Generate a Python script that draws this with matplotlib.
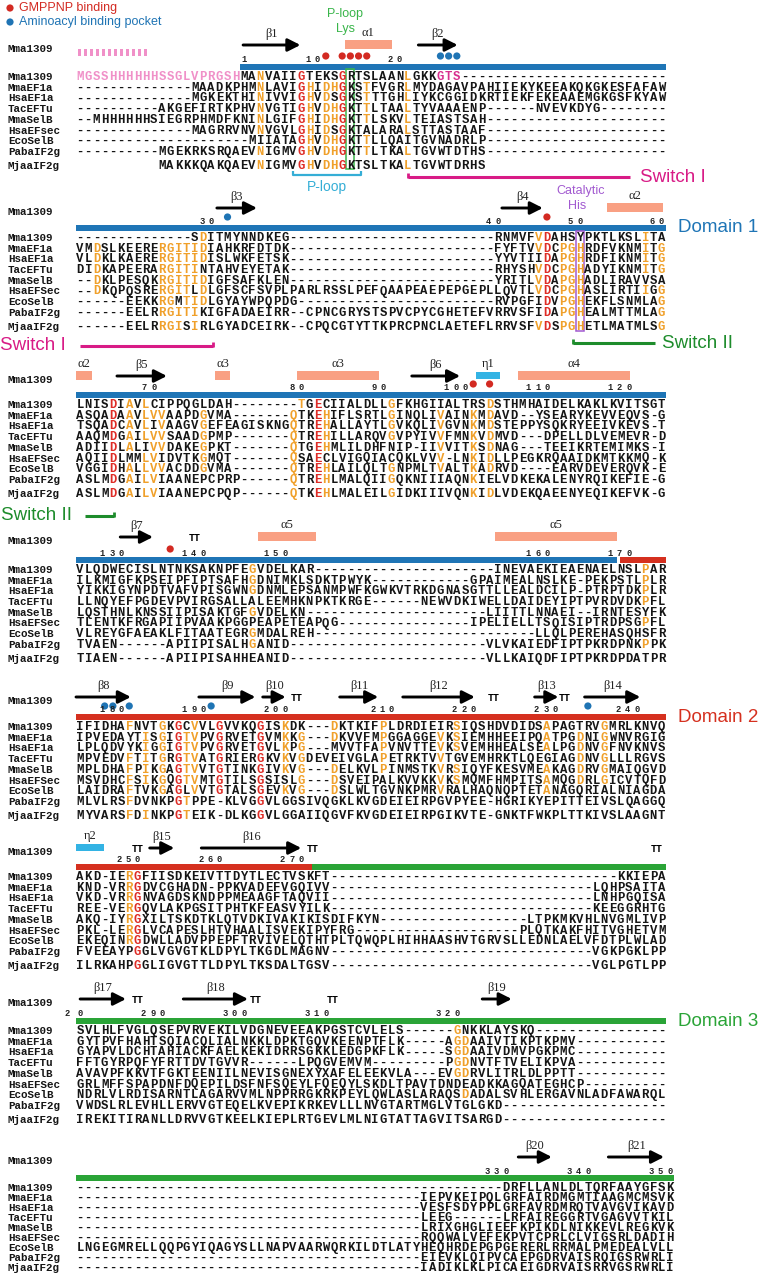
import matplotlib
matplotlib.use("Agg")
import matplotlib.pyplot as plt
from matplotlib.patches import Rectangle, Circle
from matplotlib.font_manager import FontProperties
from collections import Counter

W, H = 760, 1276
X0, CW = 76.0, 8.19     # left edge of residue column 1, column width (px)
NAME_X = 8

NAMES = ["Mma1309", "MmaEF1a", "HsaEF1a", "TacEFTu", "MmaSelB",
         "HsaEFSec", "EcoSelB", "PabaIF2g", "MjaaIF2g"]
NAMES_FIRST = NAMES[:5] + ["HsaEFsec"] + NAMES[6:]

# ---- alignment blocks (9 sequences each) ----
B1 = [
    "MGSSHHHHHHSSGLVPRGSHMANVAIIGTEKSGRTSLAANLGKKGTS" + "-" * 25,
    "-" * 14 + "MAADKPHMNLAVIGHIDHGKSTFVGRLMYDAGAVPAHIIEKYKEEAKQKGKESFAFAW",
    "-" * 14 + "MGKEKTHINIVVIGHVDSGKSTTTGHLIYKCGGIDKRTIEKFEKEAAEMGKGSFKYAW",
    "-" * 10 + "AKGEFIRTKPHVNVGTIGHVDHGKTTLTAALTYVAAAENP" + "-" * 6 + "NVEVKDYG" + "-" * 8,
    "--MHHHHHHSIEGRPHMDFKNINLGIFGHIDHGKTTLSKVLTEIASTSAH" + "-" * 22,
    "-" * 14 + "MAGRRVNVNVGVLGHIDSGKTALARALSTTASTAAF" + "-" * 22,
    "-" * 21 + "MIIATAGHVDHGKTTLLQAITGVNADRLP" + "-" * 22,
    "-" * 10 + "MGEKRKSRQAEVNIGMVGHVDHGKTTLTKALTGVWTDTHS" + "-" * 22,
    " " * 10 + "MAKKKQAKQAEVNIGMVGHVDHGKTSLTKALTGVWTDRHS",
]
B2 = [
    "-" * 14 + "SDITMYNNDKEG" + "-" * 25 + "RNMVFVDAHSYPKTLKSLITA",
    "VMDSLKEERERGITIDIAHKRFDTDK" + "-" * 25 + "FYFTVVDCPGHRDFVKNMITG",
    "VLDKLKAERERGITIDISLWKFETSK" + "-" * 25 + "YYVTIIDAPGHRDFIKNMITG",
    "DIDKAPEERARGITINTAHVEYETAK" + "-" * 25 + "RHYSHVDCPGHADYIKNMITG",
    "--DKLPESQKRGITIDIGFSAFKLEN" + "-" * 25 + "YRITLVDAPGHADLIRAVVSA",
    "--DKQPQSRERGITLDLGFSCFSVPLPARLRSSLPEFQAAPEAEPEPGEPLLQVTLVDCPGHASLIRTIIGG",
    "------EEKKRGMTIDLGYAYWPQPDG" + "-" * 24 + "RVPGFIDVPGHEKFLSNMLAG",
    "------EELRRGITIKIGFADAEIRR--CPNCGRYSTSPVCPYCGHETEFVRRVSFIDAPGHEALMTTMLAG",
    "------EELRRGISIRLGYADCEIRK--CPQCGTYTTKPRCPNCLAETEFLRRVSFVDSPGHETLMATMLSG",
]
B3 = [
    "LNISDIAVLCIPPQGLDAH" + "-" * 8 + "TGECIIALDLLGFKHGIIALTRSDSTHMHAIDELKAKLKVITSGT",
    "ASQADAAVLVVAAPDGVMA" + "-" * 7 + "QTKEHIFLSRTLGINQLIVAINKMDAVD--YSEARYKEVVEQVS-G",
    "TSQADCAVLIVAAGVGEFEAGISKNGQTREHALLAYTLGVKQLIVGVNKMDSTEPPYSQKRYEEIVKEVS-T",
    "AAQMDGAILVVSAADGPMP" + "-" * 7 + "QTREHILLARQVGVPYIVVFMNKVDMVD---DPELLDLVEMEVR-D",
    "ADIIDLALIVVDAKEGPKT" + "-" * 7 + "QTGEHMLILDHFNIP-IIVVITKSDNAG---TEEIKRTEMIMKS-I",
    "AQIIDLMMLVIDVTKGMQT" + "-" * 7 + "QSAECLVIGQIACQKLVVV-LNKIDLLPEGKRQAAIDKMTKKMQ-K",
    "VGGIDHALLVVACDDGVMA" + "-" * 7 + "QTREHLAILQLTGNPMLTVALTKADRVD----EARVDEVERQVK-E",
    "ASLMDGAILVIAANEPCPRP" + "-" * 6 + "QTREHLMALQIIGQKNIIIAQNKIELVDKEKALENYRQIKEFIE-G",
    "ASLMDGAILVIAANEPCPQP" + "-" * 6 + "QTKEHLMALEILGIDKIIIVQNKIDLVDEKQAEENYEQIKEFVK-G",
]
B4 = [
    "VLQDWECISLNTNKSAKNPFEGVDELKAR" + "-" * 22 + "INEVAEKIEAENAELNSLPAR",
    "ILKMIGFKPSEIPFIPTSAFHGDNIMKLSDKTPWYK" + "-" * 12 + "GPAIMEALNSLKE-PEKPSTLPLR",
    "YIKKIGYNPDTVAFVPISGWNGDNMLEPSANMPWFKGWKVTRKDGNASGTTLLEALDCILP-PTRPTDKPLR",
    "LLNQYEFPGDEVPVIRGSALLALEEMHKNPKTKRGE" + "-" * 6 + "NEWVDKIWELLDAIDEYIPTPVRDVDKPFL",
    "LQSTHNLKNSSIIPISAKTGFGVDELKN" + "-" * 22 + "LIITTLNNAEI--IRNTESYFK",
    "TLENTKFRGAPIIPVAAKPGGPEAPETEAPQG" + "-" * 16 + "IPELIELLTSQISIPTRDPSGPFL",
    "VLREYGFAEAKLFITAATEGRGMDALREH" + "-" * 27 + "LLQLPEREHASQHSFR",
    "TVAEN------APIIPISALHGANID" + "-" * 24 + "VLVKAIEDFIPTPKRDPNKPPK",
    "TIAEN------APIIPISAHHEANID" + "-" * 24 + "VLLKAIQDFIPTPKRDPDATPR",
]
B5 = [
    "IFIDHAFNVTGKGCVVLGVVKQGISKDK---DKTKIFPLDRDIEIRSIQSHDVDIDSAPAGTRVGMRLKNVQ",
    "IPVEDAYTISGIGTVPVGRVETGVMKKG---DKVVFMPGGAGGEVKSIEMHHEEIPQATPGDNIGWNVRGIG",
    "LPLQDVYKIGGIGTVPVGRVETGVLKPG---MVVTFAPVNVTTEVKSVEMHHEALSEALPGDNVGFNVKNVS",
    "MPVEDVFTITGRGTVATGRIERGKVKVGDEVEIVGLAPETRKTVVTGVEMHRKTLQEGIAGDNVGLLLRGVS",
    "MPLDHAFPIKGAGTVVTGTINKGIVKVG---DELKVLPINMSTKVRSIQYFKESVMEAKAGDRVGMAIQGVD",
    "MSVDHCFSIKGQGTVMTGTILSGSISLG---DSVEIPALKVVKKVKSMQMFHMPITSAMQGDRLGICVTQFD",
    "LAIDRAFTVKGAGLVVTGTALSGEVKVG---DSLWLTGVNKPMRVRALHAQNQPTETANAGQRIALNIAGDA",
    "MLVLRSFDVNKPGTPPE-KLVGGVLGGSIVQGKLKVGDEIEIRPGVPYEE-HGRIKYEPITTEIVSLQAGGQ",
    "MYVARSFDINKPGTEIK-DLKGGVLGGAIIQGVFKVGDEIEIRPGIKVTE-GNKTFWKPLTTKIVSLAAGNT",
]
B6 = [
    "AKD-IERGFIISDKEIVTTDYTLECTVSKFT" + "-" * 35 + "KKIEPA",
    "KND-VRRGDVCGHADN-PPKVADEFVGQIVV" + "-" * 32 + "LQHPSAITA",
    "VKD-VRRGNVAGDSKNDPPMEAAGFTAQVII" + "-" * 32 + "LNHPGQISA",
    "REE-VERGQVLAKPGSITPHTKFEASVYILK" + "-" * 32 + "KEEGGRHTG",
    "AKQ-IYRGXILTSKDTKLQTVDKIVAKIKISDIFKYN" + "-" * 18 + "LTPKMKVHLNVGMLIVP",
    "PKL-LERGLVCAPESLHTVHAALISVEKIPYFRG" + "-" * 20 + "PLQTKAKFHITVGHETVM",
    "EKEQINRGDWLLADVPPEPFTRVIVELQTHTPLTQWQPLHIHHAASHVTGRVSLLEDNLAELVFDTPLWLAD",
    "FVEEAYPGGLVGVGTKLDPYLTKGDLMAGNV" + "-" * 32 + "VGKPGKLPP",
    "ILRKAHPGGLIGVGTTLDPYLTKSDALTGSV" + "-" * 32 + "VGLPGTLPP",
]
B7 = [
    "SVLHLFVGLQSEPVRVEKILVDGNEVEEAKPGSTCVLELS" + "-" * 6 + "GNKKLAYSKQ" + "-" * 16,
    "GYTPVFHAHTSQIACQLIALNKKLDPKTGQVKEENPTFLK" + "-" * 5 + "AGDAAIVTIKPTKPMV" + "-" * 11,
    "GYAPVLDCHTAHIACKFAELKEKIDRRSGKKLEDGPKFLK" + "-" * 5 + "SGDAAIVDMVPGKPMC" + "-" * 11,
    "FFTGYRPQFYFRTTDVTGVVR" + "-" * 6 + "LPQGVEMVM" + "-" * 9 + "PGDNVTFTVELIKPVA" + "-" * 11,
    "AVAVPFKKVTFGKTEENIILNEVISGNEXYXAFELEEKVLA---EVGDRVLITRLDLPPTT" + "-" * 11,
    "GRLMFFSPAPDNFDQEPILDSFNFSQEYLFQEQYLSKDLTPAVTDNDEADKKAGQATEGHCP" + "-" * 10,
    "NDRLVLRDISARNTLAGARVVMLNPPRRGKRKPEYLQWLASLARAQSDADALSVHLERGAVNLADFAWARQL",
    "VWDSLRLEVHLLERVVGTEQELKVEPIKRKEVLLLNVGTARTMGLVTGLGKD" + "-" * 20,
    "IREKITIRANLLDRVVGTKEELKIEPLRTGEVLMLNIGTATTAGVITSARGD" + "-" * 20,
]
B8 = [
    "-" * 52 + "DRFLLANLDLTQRFAAYGFSK",
    "-" * 42 + "IEPVKEIPQLGRFAIRDMGMTIAAGMCMSVK",
    "-" * 42 + "VESFSDYPPLGRFAVRDMRQTVAVGVIKAVD",
    "-" * 42 + "LEEG------LRFAIREGGRTVGAGVVTKIL",
    "-" * 42 + "LRIXGHGLIEEFKPIKDLNIKKEVLREGKVK",
    "-" * 42 + "RQQWALVEFEKPVTCPRLCLVIGSRLDADIH",
    "LNGEGMRELLQQPGYIQAGYSLLNAPVAARWQRKILDTLATYHEQHRDEPGPGERERLRRMALPMEDEALVLL",
    "-" * 42 + "EIEVKLQIPVCAEPGDRVAISRQIGSRWRLI",
    "-" * 42 + "IADIKLKLPICAEIGDRVAISRRVGSRWRLI",
]
BLOCKS = [B1, B2, B3, B4, B5, B6, B7, B8]

# conserved columns (1-based); residues matching the column consensus get coloured
ORANGE_COLS = [
    [23, 29, 31, 32, 36, 41],
    [3, 11, 12, 13, 14, 15, 16, 57, 60, 61, 62, 70, 72],
    [7, 9, 10, 11, 16, 27, 31, 39, 45, 49, 51],
    [22, 70],
    [7, 9, 11, 14, 15, 26, 28, 32, 38, 45, 47, 58, 62, 65],
    [7],
    [47, 48],
    [],
]
RED_COLS = [[28, 33], [58], [5, 30], [], [13, 18, 23], [8], [], []]
OVERRIDES = [(2, 0, 28, "orange")]          # (block, row, col, colour)
HIS_TAG_COLS = list(range(1, 21))           # Mma1309 tag, block 1
GTS_COLS = [45, 46, 47]

# secondary structure of Mma1309 (column units)
ARROWS = [
    [(21.4, 27.4, "β1"), (42.8, 46.6, "β2")],
    [(18.2, 22.1, "β3"), (53.0, 57.0, "β4")],
    [(6.0, 11.1, "β5"), (42.0, 46.9, "β6")],
    [(6.4, 9.4, "β7")],
    [(1.0, 6.7, "β8"), (16.0, 21.9, "β9"), (23.8, 25.6, "β10"), (33.2, 36.9, "β11"),
     (40.9, 48.7, "β12"), (57.0, 58.9, "β13"), (63.1, 68.9, "β14")],
    [(10.0, 12.0, "β15"), (16.3, 27.5, "β16")],
    [(1.5, 6.1, "β17"), (14.1, 21.0, "β18"), (50.6, 53.2, "β19")],
    [(55.0, 58.1, "β20"), (66.0, 71.8, "β21")],
]
HELICES = [
    [(33.8, 38.6, "α1", "a")],
    [(65.8, 71.7, "α2", "a")],
    [(1.0, 2.0, "α2", "a"), (18.0, 18.8, "α3", "a"), (28.0, 37.0, "α3", "a"),
     (49.8, 51.8, "η1", "n"), (55.0, 67.6, "α4", "a")],
    [(23.2, 29.3, "α5", "a"), (52.2, 66.0, "α5", "a")],
    [],
    [(1.0, 3.4, "η2", "n")],
    [],
    [],
]
TURNS = [[], [], [], [15], [27.5, 51.5, 60.2], [8.1, 29.4, 71.4], [8.0, 22.4, 31.8], []]
RED_DOTS = [[31, 33, 34, 35, 36], [58], [49, 51], [12], [], [], [], []]
BLUE_DOTS = [[45, 46, 47], [19], [], [], [4, 5, 7, 17, 63], [], [], []]
NUMBERS = [
    [(21, "1"), (30, "10"), (40, "20")],
    [(17, "30"), (52, "40"), (62, "50"), (72, "60")],
    [(10, "70"), (28, "80"), (38, "90"), (48, "100"), (58, "110"), (68, "120")],
    [(6, "130"), (16, "140"), (26, "150"), (58, "160"), (68, "170")],
    [(6, "180"), (16, "190"), (26, "200"), (39, "210"), (49, "220"), (59, "230"), (69, "240")],
    [(8, "250"), (18, "260"), (28, "270")],
    [(1, "2 0"), (11, "290"), (21, "300"), (31, "310"), (47, "320")],
    [(53, "330"), (63, "340"), (73, "350")],
]
DOMAIN_BARS = [
    [(21, 72, "d1")],
    [(1, 72, "d1")],
    [(1, 72, "d1")],
    [(1, 66.1, "d1"), (67.4, 72, "d2")],
    [(1, 72, "d2")],
    [(1, 28.8, "d2"), (29.8, 72, "d3")],
    [(1, 72, "d3")],
    [(1, 73, "d3")],
]
DOMAIN_LABELS = [(1, "Domain 1", "d1"), (4, "Domain 2", "d2"), (6, "Domain 3", "d3")]

# vertical layout per block (px)
SS_Y = [45, 208, 376, 537, 697, 848, 999, 1157]
ROW0 = [77, 238, 405, 570, 727, 877, 1031, 1188]
ROW_STEP = [10.7, 10.7, 10.7, 10.7, 10.7, 10.7, 10.7, 10.0]
LAST_GAP = [3, 3, 3, 3, 3, 3, 3, 0]

# switch regions: label, start col, end col, y, tick end, label x
SWITCHES = [
    ("Switch I", 41.5, 67.6, 177, "left", 640, "sw1"),
    ("Switch I", 1.5, 16.7, 346, "right", 0, "sw1"),
    ("Switch II", 61.7, 70.7, 343, "left", 662, "sw2"),
    ("Switch II", 2.1, 4.6, 516, "right", 1, "sw2"),
]

COL = {
    "black": "#151515", "orange": "#f0a02a", "red": "#de2c26",
    "pink": "#f090c8", "magenta": "#d8308f",
    "d1": "#1f75b6", "d2": "#d5301f", "d3": "#2aa437",
    "salmon": "#f9a083", "cyan": "#33b3e4",
    "sw1": "#d81b86", "sw2": "#1e8c2c",
    "dotred": "#d32a22", "dotblue": "#1f74b4",
    "ploop": "#35aed6", "lys": "#39b54a", "his": "#a25ad0",
}

SEQ_FP = FontProperties(family="Liberation Mono", weight="bold", size=8.8)
NAME_FP = FontProperties(family="Liberation Mono", weight="bold", size=7.8)
NUM_FP = FontProperties(family="Liberation Mono", weight="bold", size=6.3)
SS_FP = FontProperties(family="Liberation Serif", size=9)
SANS = "Liberation Sans"


def cx(c):
    """centre x of (possibly fractional) column c"""
    return X0 + (c - 0.5) * CW


def span(a, b):
    return X0 + (a - 1) * CW, X0 + b * CW


fig = plt.figure(figsize=(W / 100, H / 100), dpi=100)
ax = fig.add_axes([0, 0, 1, 1])
ax.set_xlim(0, W)
ax.set_ylim(H, 0)
ax.axis("off")

# legend
ax.add_patch(Circle((10, 8), 3.6, color=COL["dotred"], lw=0))
ax.text(19, 8, "GMPPNP binding", color=COL["dotred"], fontsize=9, family=SANS, va="center")
ax.add_patch(Circle((10, 22), 3.6, color=COL["dotblue"], lw=0))
ax.text(19, 22, "Aminoacyl binding pocket", color=COL["dotblue"], fontsize=9, family=SANS, va="center")

for b, rows in enumerate(BLOCKS):
    A = SS_Y[b]
    r0 = ROW0[b]
    bar_y = r0 - 10
    num_y = bar_y - 7
    dot_y = bar_y - 11

    # secondary structure row
    ax.text(NAME_X, A + 4, "Mma1309", fontproperties=NAME_FP, color=COL["black"], va="center")
    for a, e, lab in ARROWS[b]:
        x0, x1 = span(a, e)
        ax.annotate("", xy=(x1, A), xytext=(x0, A),
                    arrowprops=dict(arrowstyle="-|>,head_length=0.75,head_width=0.38",
                                    lw=2.1, color="black", shrinkA=0, shrinkB=0,
                                    mutation_scale=10))
        ax.text((x0 + x1) / 2, A - 11, lab, fontproperties=SS_FP, color="#222222",
                ha="center", va="center")
    for a, e, lab, kind in HELICES[b]:
        x0, x1 = span(a, e)
        h = 9 if kind == "a" else 7
        ax.add_patch(Rectangle((x0, A - 1 - h / 2), x1 - x0, h, lw=0,
                               color=COL["salmon"] if kind == "a" else COL["cyan"]))
        ax.text((x0 + x1) / 2, A - 12, lab, fontproperties=SS_FP, color="#222222",
                ha="center", va="center")
    for t in TURNS[b]:
        ax.text(cx(t), A + 1, "TT", fontproperties=NUM_FP, fontsize=7.2, color="black",
                ha="center", va="center")
    for c in RED_DOTS[b]:
        ax.add_patch(Circle((cx(c), dot_y), 3.6, color=COL["dotred"], lw=0))
    for c in BLUE_DOTS[b]:
        ax.add_patch(Circle((cx(c), dot_y), 3.6, color=COL["dotblue"], lw=0))
    for c, txt in NUMBERS[b]:
        x = cx(c)
        for ch in reversed(txt):
            if ch == " ":
                x -= 4.0
                continue
            ax.text(x, num_y, ch, fontproperties=NUM_FP, color="#222222", ha="center", va="center")
            x -= 9.3
    for a, e, d in DOMAIN_BARS[b]:
        x0, x1 = span(a, e)
        ax.add_patch(Rectangle((x0, bar_y - 2.6), x1 - x0, 5.2, lw=0, color=COL[d]))

    # colour map for this block
    cmap = {}
    for cols, cname in ((ORANGE_COLS[b], "orange"), (RED_COLS[b], "red")):
        for c in cols:
            letters = [r[c - 1] for r in rows if c - 1 < len(r) and r[c - 1].isalpha()]
            cons = Counter(letters).most_common(1)[0][0]
            cmap[c] = (cons, cname)

    names = NAMES_FIRST if b == 0 else NAMES
    for i, seq in enumerate(rows):
        y = r0 + i * ROW_STEP[b] + (LAST_GAP[b] if i == len(rows) - 1 else 0)
        ax.text(NAME_X, y, names[i], fontproperties=NAME_FP, color=COL["black"], va="center")
        for j, ch in enumerate(seq):
            if ch == " ":
                continue
            c = j + 1
            color = COL["black"]
            if c in cmap and ch == cmap[c][0]:
                color = COL[cmap[c][1]]
            for ob, orow, oc, oname in OVERRIDES:
                if ob == b and orow == i and oc == c:
                    color = COL[oname]
            if b == 0 and i == 0:
                if c in HIS_TAG_COLS:
                    color = COL["pink"]
                elif c in GTS_COLS:
                    color = COL["magenta"]
            ax.text(cx(c), y, ch, fontproperties=SEQ_FP, color=color, ha="center", va="center")

# domain labels
for b, lab, d in DOMAIN_LABELS:
    ax.text(X0 + 72 * CW + 12, ROW0[b] - 10, lab, color=COL[d], fontsize=13.5,
            family=SANS, va="center", ha="left")

# His-tag disorder marks above block 1
for k in range(12):
    ax.add_patch(Rectangle((78 + k * 6.0, SS_Y[0] + 4), 3.2, 6.5, lw=0, color=COL["pink"]))

# P-loop Lys box and labels
x0, x1 = span(34, 34)
ax.add_patch(Rectangle((x0, ROW0[0] - 8), x1 - x0, 100, fill=False, lw=1.1,
                       edgecolor=COL["lys"]))
ax.text(cx(34) - 5, 14, "P-loop", color=COL["lys"], fontsize=9, family=SANS, ha="center", va="center")
ax.text(cx(34) - 5, 29, "Lys", color=COL["lys"], fontsize=9, family=SANS, ha="center", va="center")

# P-loop bracket under block 1
x0, x1 = span(27.5, 34.8)
ax.plot([x0, x0, x1, x1], [171, 175, 175, 171], color=COL["ploop"], lw=1.6, solid_capstyle="butt")
ax.text((x0 + x1) / 2, 187, "P-loop", color=COL["ploop"], fontsize=10, family=SANS,
        ha="center", va="center")

# catalytic His box and label
x0, x1 = span(62, 62)
ax.add_patch(Rectangle((x0, ROW0[1] - 7), x1 - x0, 100, fill=False, lw=1.1,
                       edgecolor=COL["his"]))
ax.text(cx(62) + 1, SS_Y[1] - 17, "Catalytic", color=COL["his"], fontsize=9, family=SANS,
        ha="center", va="center")
ax.text(cx(62) - 3, SS_Y[1] - 2, "His", color=COL["his"], fontsize=9, family=SANS,
        ha="center", va="center")

# switch regions
for lab, a, e, y, tick, lx, cname in SWITCHES:
    x0, x1 = span(a, e)
    tx = x0 if tick == "left" else x1
    ax.plot([x0, x1], [y, y], color=COL[cname], lw=2.2, solid_capstyle="butt")
    ax.plot([tx, tx], [y - 4, y + 1], color=COL[cname], lw=2.0, solid_capstyle="butt")
    ax.text(lx, y, lab, color=COL[cname], fontsize=13.5, family=SANS, ha="left", va="center")

fig.savefig("out.png", dpi=100)
